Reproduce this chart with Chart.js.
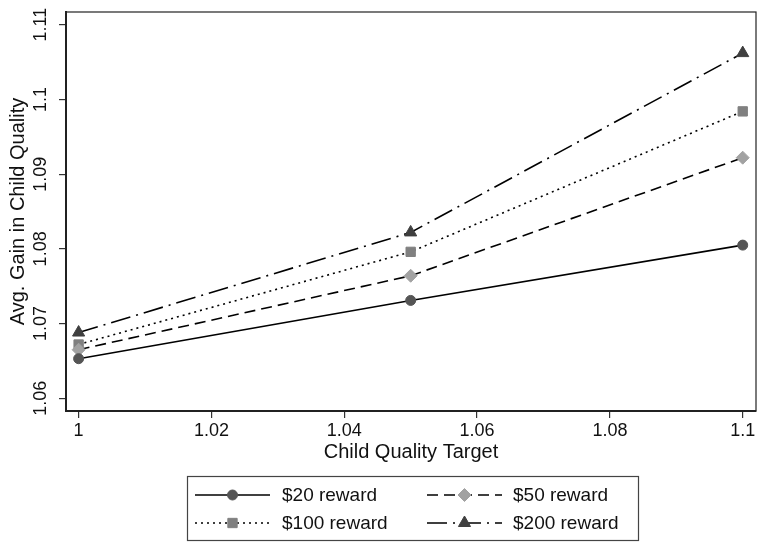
<!DOCTYPE html>
<html lang="en">
<head>
    <meta charset="UTF-8">
    <title>Avg. Gain in Child Quality</title>
    <script src="https://cdn.jsdelivr.net/npm/chart.js"></script>
    <style>
        body {
            margin: 0;
            padding: 0;
            background-color: #fff;
        }
        #wrap {
            width: 764px;
            height: 542px;
        }
    </style>
</head>
<body>
    <div id="wrap">
        <canvas id="gainChart" width="764" height="542"></canvas>
    </div>

    <script>
        // data
        const targets = [1, 1.05, 1.1];
        const reward20 = [1.0653, 1.0731, 1.0805];
        const reward50 = [1.0665, 1.0764, 1.0922];
        const reward100 = [1.0672, 1.0796, 1.0984];
        const reward200 = [1.0688, 1.0822, 1.1062];
        const seriesLabels = ['$20 reward', '$50 reward', '$100 reward', '$200 reward'];

        const xTicks = [1, 1.02, 1.04, 1.06, 1.08, 1.1];
        const xTickLabels = ['1', '1.02', '1.04', '1.06', '1.08', '1.1'];
        const yTicks = [1.06, 1.07, 1.08, 1.09, 1.1, 1.11];
        const yTickLabels = ['1.06', '1.07', '1.08', '1.09', '1.1', '1.11'];

        const FONT = 'Arial, "Liberation Sans", Helvetica, sans-serif';

        function pts(ys) {
            return targets.map((x, i) => ({ x: x, y: ys[i] }));
        }

        function series(label, ys, dash, style, color, radius) {
            return {
                label: label,
                data: pts(ys),
                borderColor: '#000',
                borderWidth: 1.6,
                borderDash: dash,
                pointStyle: style,
                pointRadius: radius,
                pointBackgroundColor: color,
                pointBorderColor: color,
                pointBorderWidth: 1,
                fill: false,
                tension: 0
            };
        }

        // plot region border (top and right sides)
        const frame = {
            id: 'frame',
            afterDatasetsDraw(chart) {
                const a = chart.chartArea;
                const ctx = chart.ctx;
                ctx.save();
                ctx.strokeStyle = '#222';
                ctx.lineWidth = 1.2;
                ctx.strokeRect(a.left, a.top, a.right - a.left, a.bottom - a.top);
                ctx.restore();
            }
        };

        // stata style boxed legend under the axis title
        const boxLegend = {
            id: 'boxLegend',
            afterDraw(chart) {
                const ctx = chart.ctx;
                ctx.save();
                ctx.strokeStyle = '#444';
                ctx.lineWidth = 1.2;
                ctx.strokeRect(187.5, 476.5, 451, 64);
                const cols = [{ x0: 195, x1: 270, tx: 282 }, { x0: 427, x1: 502, tx: 513 }];
                const rows = [495, 523];
                chart.data.datasets.forEach((ds, i) => {
                    const c = cols[i % 2];
                    const y = rows[Math.floor(i / 2)];
                    ctx.strokeStyle = '#000';
                    ctx.lineWidth = 1.6;
                    ctx.setLineDash(ds.borderDash);
                    ctx.beginPath();
                    ctx.moveTo(c.x0, y);
                    ctx.lineTo(c.x1, y);
                    ctx.stroke();
                    ctx.setLineDash([]);
                    ctx.fillStyle = ds.pointBackgroundColor;
                    ctx.strokeStyle = ds.pointBorderColor;
                    ctx.lineWidth = 1;
                    Chart.helpers.drawPoint(ctx, {
                        pointStyle: ds.pointStyle,
                        radius: ds.pointRadius,
                        rotation: 0,
                        borderWidth: 1
                    }, (c.x0 + c.x1) / 2, y);
                    ctx.fillStyle = '#111';
                    ctx.font = '19px ' + FONT;
                    ctx.textBaseline = 'middle';
                    ctx.textAlign = 'left';
                    ctx.fillText(ds.label, c.tx, y + 1);
                });
                ctx.restore();
            }
        };

        const ctx = document.getElementById('gainChart').getContext('2d');
        new Chart(ctx, {
            type: 'line',
            data: {
                datasets: [
                    series(seriesLabels[0], reward20, [], 'circle', '#555555', 5),
                    series(seriesLabels[1], reward50, [11, 6], 'rectRot', '#a2a2a2', 6.5),
                    series(seriesLabels[2], reward100, [2, 4], 'rect', '#808080', 6.6),
                    series(seriesLabels[3], reward200, [20, 6, 2, 6], 'triangle', '#3f3f3f', 7)
                ]
            },
            options: {
                responsive: false,
                animation: false,
                layout: {
                    padding: { top: 12, right: 5, left: 0, bottom: 0 }
                },
                plugins: {
                    legend: { display: false },
                    tooltip: { enabled: false }
                },
                scales: {
                    x: {
                        type: 'linear',
                        min: 0.9981,
                        max: 1.102,
                        afterBuildTicks: s => { s.ticks = xTicks.map(v => ({ value: v })); },
                        afterFit: s => { s.height = 131; },
                        grid: { drawOnChartArea: false, drawTicks: true, tickLength: 7, color: '#333', lineWidth: 1.2 },
                        border: { display: true, width: 2, color: '#222' },
                        ticks: {
                            padding: 2,
                            color: '#111',
                            font: { family: FONT, size: 18 },
                            maxRotation: 0,
                            autoSkip: false,
                            callback: (v, i) => xTickLabels[i]
                        },
                        title: {
                            display: true,
                            text: 'Child Quality Target',
                            color: '#111',
                            font: { family: FONT, size: 20 },
                            padding: { top: 0, bottom: 78 }
                        }
                    },
                    y: {
                        type: 'linear',
                        min: 1.0583,
                        max: 1.1117,
                        afterBuildTicks: s => { s.ticks = yTicks.map(v => ({ value: v })); },
                        afterFit: s => { s.width = 66; },
                        grid: { drawOnChartArea: false, drawTicks: true, tickLength: 7, color: '#333', lineWidth: 1.2 },
                        border: { display: true, width: 2, color: '#222' },
                        ticks: {
                            padding: 0,
                            color: '#111',
                            font: { family: FONT, size: 18 },
                            minRotation: 90,
                            maxRotation: 90,
                            crossAlign: 'center',
                            autoSkip: false,
                            callback: (v, i) => yTickLabels[i]
                        },
                        title: {
                            display: true,
                            text: 'Avg. Gain in Child Quality',
                            color: '#111',
                            font: { family: FONT, size: 20 },
                            padding: { top: 6, bottom: 0 }
                        }
                    }
                }
            },
            plugins: [frame, boxLegend]
        });
    </script>
</body>
</html>
